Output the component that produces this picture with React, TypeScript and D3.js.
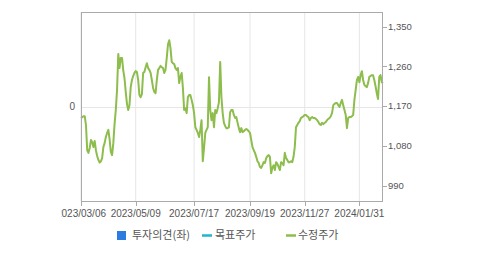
import React from 'react';
import * as d3 from 'd3';

// 수정주가 by trading day (index 0 = 2023/03/06)
const adjPrice: number[] = [
  1143, 1145, 1147, 1147, 1127, 1070, 1064, 1075, 1093, 1088,
  1077, 1091, 1070, 1057, 1048, 1042, 1045, 1052, 1077, 1086,
  1100, 1109, 1116, 1095, 1066, 1059, 1086, 1129, 1161, 1206,
  1288, 1256, 1279, 1279, 1251, 1233, 1202, 1175, 1161, 1172,
  1213, 1229, 1238, 1245, 1249, 1247, 1229, 1195, 1190, 1197,
  1245, 1247, 1258, 1267, 1256, 1252, 1245, 1229, 1211, 1202,
  1199, 1229, 1252, 1256, 1261, 1258, 1256, 1245, 1252, 1279,
  1310, 1319, 1301, 1270, 1267, 1265, 1256, 1252, 1256, 1222,
  1236, 1245, 1211, 1161, 1165, 1154, 1190, 1195, 1195, 1184,
  1172, 1154, 1122, 1116, 1109, 1100, 1116, 1138, 1045, 1075,
  1109, 1116, 1122, 1235, 1161, 1138, 1154, 1122, 1161, 1154,
  1165, 1179, 1270, 1190, 1154, 1132, 1125, 1120, 1120, 1122,
  1156, 1161, 1161, 1150, 1143, 1145, 1132, 1120, 1111, 1120,
  1111, 1113, 1116, 1118, 1116, 1113, 1109, 1093, 1077, 1070,
  1064, 1055, 1045, 1041, 1032, 1030, 1036, 1043, 1041, 1052,
  1057, 1059, 1055, 1018, 1030, 1036, 1025, 1043, 1039, 1032,
  1025, 1043, 1041, 1036, 1064, 1052, 1048, 1043, 1043, 1045,
  1043, 1055, 1077, 1122, 1127, 1132, 1136, 1143, 1145, 1147,
  1150, 1150, 1147, 1145, 1138, 1143, 1145, 1143, 1143, 1141,
  1138, 1134, 1129, 1127, 1132, 1129, 1132, 1134, 1138, 1141,
  1143, 1147, 1154, 1172, 1175, 1177, 1177, 1172, 1168, 1177,
  1184, 1172, 1161, 1150, 1120, 1143, 1145, 1145, 1147, 1150,
  1184, 1206, 1229, 1236, 1224, 1240, 1249, 1229, 1218, 1215,
  1213, 1222, 1236, 1238, 1240, 1240, 1229, 1215, 1199, 1186,
  1236, 1240, 1224, 1222,
];

const xTickDay = [0, 44, 91, 136, 180, 224];
const xTickLabel = ['2023/03/06', '2023/05/09', '2023/07/17', '2023/09/19', '2023/11/27', '2024/01/31'];
const rightTicks = [990, 1080, 1170, 1260, 1350];
const leftTicks = [0];
const legendLabels = ['투자의견(좌)', '목표주가', '수정주가'];

const W = 479;
const H = 254;
const L = 81;
const R = 383;
const T = 12;
const B = 201;

const numFont = '"Liberation Sans", Arial, sans-serif';
const krFont = '"Noto Sans CJK KR", "Noto Sans", sans-serif';
const textColor = '#555';
const frameColor = '#aaaaaa';
const gridColor = '#e6e6e6';
const lineColor = '#8dbd4c';

export default function App() {
  const x = d3.scaleLinear().domain([0, adjPrice.length - 1]).range([L, R]);
  const y = d3.scaleLinear().domain([955, 1383]).range([B, T]);
  const yLeft = d3.scaleLinear().domain([-1, 1]).range([B, T]);
  const fmt = d3.format(',');

  const line = d3
    .line<number>()
    .x((_, i) => x(i))
    .y((v) => y(v));

  return (
    <svg
      width={W}
      height={H}
      style={{ position: 'absolute', left: 0, top: 0, background: '#fff' }}
    >
      <defs>
        <clipPath id="xlabClip">
          <rect x={61} y={0} width={W - 61} height={H} />
        </clipPath>
      </defs>
      {/* vertical grid */}
      {xTickDay.map((d) => (
        <line key={'vg' + d} x1={x(d)} x2={x(d)} y1={T} y2={B} stroke={gridColor} strokeWidth={1} />
      ))}
      {/* horizontal grid at left 0 */}
      {leftTicks.map((t) => (
        <line key={'hg' + t} x1={L} x2={R} y1={Math.round(yLeft(t)) + 0.5} y2={Math.round(yLeft(t)) + 0.5} stroke={gridColor} strokeWidth={1} />
      ))}
      {/* line */}
      <path d={line(adjPrice) || ''} fill="none" stroke={lineColor} strokeWidth={2} strokeLinejoin="round" />
      {/* frame */}
      <rect x={L + 0.5} y={T + 0.5} width={R - L - 1} height={B - T} fill="none" stroke={frameColor} strokeWidth={1} />
      {/* x ticks */}
      <g clipPath="url(#xlabClip)">
        {xTickDay.map((d, i) => (
          <g key={'xt' + d}>
            <line x1={Math.round(x(d)) + 0.5} x2={Math.round(x(d)) + 0.5} y1={B} y2={B + 5} stroke={frameColor} />
            <text x={x(d)} y={217} textAnchor="middle" fontSize={10} fontFamily={numFont} fill={textColor}>
              {xTickLabel[i]}
            </text>
          </g>
        ))}
      </g>
      {/* right axis */}
      {rightTicks.map((t) => (
        <g key={'rt' + t}>
          <line x1={R} x2={R + 4} y1={Math.round(y(t)) + 0.5} y2={Math.round(y(t)) + 0.5} stroke={frameColor} />
          <text x={R + 5} y={y(t)} dy="0.35em" fontSize={9.5} fontFamily={numFont} fill={textColor}>
            {fmt(t)}
          </text>
        </g>
      ))}
      {/* left axis */}
      {leftTicks.map((t) => (
        <text key={'lt' + t} x={75} y={yLeft(t)} dy="0.35em" textAnchor="end" fontSize={10} fontFamily={numFont} fill={textColor}>
          {t}
        </text>
      ))}
      {/* legend */}
      <rect x={117} y={231} width={9} height={9} fill="#2b7be0" />
      <text x={132} y={235.5} dy="0.35em" fontSize={11} fontFamily={krFont} fill={textColor}>
        {legendLabels[0]}
      </text>
      <line x1={202} x2={212} y1={235.5} y2={235.5} stroke="#22b5cf" strokeWidth={2.5} />
      <text x={215} y={235.5} dy="0.35em" fontSize={11} fontFamily={krFont} fill={textColor}>
        {legendLabels[1]}
      </text>
      <line x1={286} x2={296} y1={235.5} y2={235.5} stroke={lineColor} strokeWidth={2.5} />
      <text x={298} y={235.5} dy="0.35em" fontSize={11} fontFamily={krFont} fill={textColor}>
        {legendLabels[2]}
      </text>
    </svg>
  );
}
